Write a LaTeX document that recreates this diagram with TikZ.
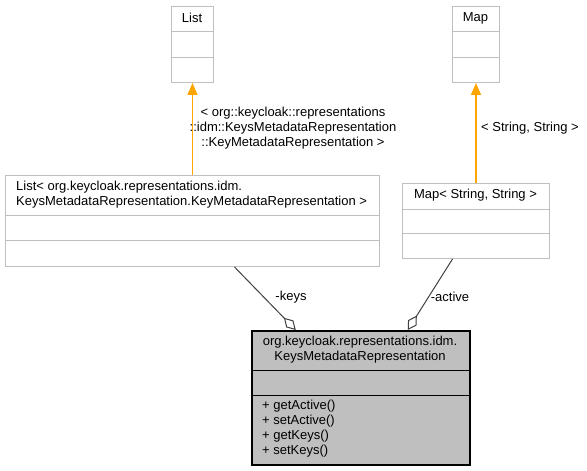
\documentclass[tikz,border=0pt]{standalone}
\usepackage{fontspec}
\setmainfont{Liberation Sans}
\usetikzlibrary{arrows.meta}
\definecolor{boxgray}{HTML}{BFBFBF}
\definecolor{edgegray}{HTML}{404040}
\definecolor{inhorange}{HTML}{FFA500}
\tikzset{
  classbox/.style={draw=boxgray, fill=white, line width=1bp, inner sep=0pt, anchor=north west},
  mainbox/.style={draw=black, fill=boxgray, line width=1.5bp, inner sep=0pt, anchor=north west},
  txt/.style={inner sep=0pt, font=\fontsize{13bp}{15bp}\selectfont, align=center},
  inh/.style={draw=inhorange, line width=1.5bp, -{Triangle[length=12bp,width=10bp]}},
  agg/.style={draw=edgegray, line width=1bp, -{Diamond[length=17bp,width=10bp,fill=white]}}
}
\begin{document}
\begin{tikzpicture}[x=1bp,y=-1bp]
      \useasboundingbox (0,0) rectangle (587,471);

      \foreach \n/\x/\y/\w/\h/\a/\b in {list/171/6/42/76/25/51, map/452/6/47/76/25/51,
          listkmr/5/175/374/91/40/65, mapss/402/183/147/75/26/50} {
        \node (\n) at (\x,\y) [classbox, minimum width=\w*1bp, minimum height=\h*1bp] {};
        \draw[boxgray] ([yshift=-\a*1bp]\n.north west) -- ([yshift=-\a*1bp]\n.north east);
        \draw[boxgray] ([yshift=-\b*1bp]\n.north west) -- ([yshift=-\b*1bp]\n.north east);
      }

      \node (kmr) at (251,330) [mainbox, minimum width=218bp, minimum height=134bp] {};
      \draw[black] ([yshift=-40bp]kmr.north west) -- ([yshift=-40bp]kmr.north east);
      \draw[black] ([yshift=-65bp]kmr.north west) -- ([yshift=-65bp]kmr.north east);

      \node (listname) at (192,18) [txt] {List};
      \node (mapname) at (475.5,18) [txt] {Map};
      \node (listkmrname) at (16,195) [txt, anchor=west, align=left]
        {List< org.keycloak.representations.idm.\\KeysMetadataRepresentation.KeyMetadataRepresentation >};
      \node (mapssname) at (475.5,195) [txt] {Map< String, String >};
      \node (kmrname) at (360,350) [txt]
        {org.keycloak.representations.idm.\\KeysMetadataRepresentation};
      \node (kmrops) at (262,429) [txt, anchor=west, align=left]
        {+ getActive()\\+ setActive()\\+ getKeys()\\+ setKeys()};

      \draw[inh] (listkmr.north) -- (list.south);
      \draw[inh] (mapss.north) -- (map.south);
      \draw[agg] ([xshift=42bp]listkmr.south) -- ([xshift=-65bp]kmr.north);
      \draw[agg] ([xshift=-23.5bp]mapss.south) -- ([xshift=47bp]kmr.north);

      \node (listlabel) at (293,128) [txt]
        {< org::keycloak::representations\\::idm::KeysMetadataRepresentation\\::KeyMetadataRepresentation >};
      \node (maplabel) at (530,128) [txt] {< String, String >};
      \node (keyslabel) at (291,297) [txt] {-keys};
      \node (activelabel) at (450,297) [txt] {-active};
    \end{tikzpicture}
\end{document}
